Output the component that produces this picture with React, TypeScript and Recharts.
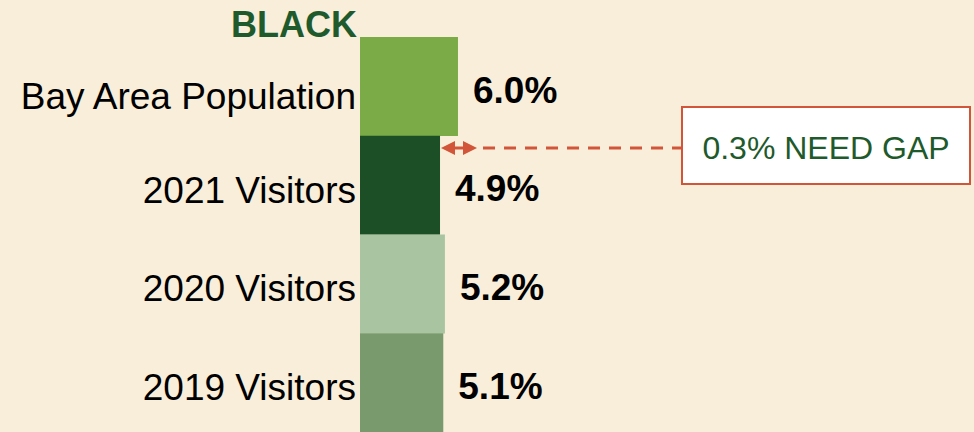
import { BarChart, Bar, XAxis, YAxis, Cell, LabelList } from 'recharts'

const categories = ['Bay Area Population', '2021 Visitors', '2020 Visitors', '2019 Visitors']
const shares = [6.0, 4.9, 5.2, 5.1]
const barColors = ['#7AAB46', '#1C4F25', '#A8C4A0', '#799A6C']
const title = 'BLACK'
const gapNote = '0.3% NEED GAP'

const W = 974
const H = 432
const AXIS_W = 360
const X_MAX = 37.6
const FONT = '"Liberation Sans", Arial, sans-serif'
const ACCENT = '#D2553A'
const DARK_GREEN = '#1E5A2B'

const data = categories.map((name, i) => ({ name, value: shares[i] }))

// pixel position of a value along the bar axis (same scale the chart uses)
const xAt = (v: number) => AXIS_W + (v / X_MAX) * (W - AXIS_W)

function CategoryTick(props: any) {
  const { x, y, payload, index } = props
  return (
    <text
      x={x + 4}
      y={y + (index === 0 ? 10 : 5)}
      textAnchor="end"
      dominantBaseline="central"
      fontFamily={FONT}
      fontSize={37}
      fill="#000"
    >
      {payload.value}
    </text>
  )
}

export default function App() {
  const arrowY = 148
  const arrowL = xAt(shares[1]) + 1
  const arrowR = arrowL + 36
  const boxX = 682
  const boxW = 288

  return (
    <div style={{ position: 'absolute', left: 0, top: 0, width: W, height: H, background: '#F8EEDA' }}>
      <BarChart
        width={W}
        height={H}
        data={data}
        layout="vertical"
        margin={{ top: 37, right: 0, bottom: 0, left: 0 }}
        barCategoryGap={0}
      >
        <XAxis type="number" domain={[0, X_MAX]} hide />
        <YAxis
          type="category"
          dataKey="name"
          width={AXIS_W}
          axisLine={false}
          tickLine={false}
          tick={<CategoryTick />}
          interval={0}
        />
        <Bar dataKey="value" isAnimationActive={false}>
          {data.map((d, i) => (
            <Cell key={d.name} fill={barColors[i]} />
          ))}
          <LabelList
            dataKey="value"
            position="right"
            offset={15}
            formatter={(v: any) => `${Number(v).toFixed(1)}%`}
            style={{ fontFamily: FONT, fontSize: 37, fontWeight: 700, fill: '#000' }}
            dy={3}
          />
        </Bar>
      </BarChart>
      <svg width={W} height={H} style={{ position: 'absolute', left: 0, top: 0, pointerEvents: 'none' }}>
        <text x={357} y={37} textAnchor="end" fontFamily={FONT} fontSize={36} fontWeight={700} fill={DARK_GREEN}>
          {title}
        </text>
        {/* double arrow */}
        <line x1={arrowL + 10} y1={arrowY} x2={arrowR - 10} y2={arrowY} stroke={ACCENT} strokeWidth={3} />
        <polygon points={`${arrowL},${arrowY} ${arrowL + 14},${arrowY - 7} ${arrowL + 14},${arrowY + 7}`} fill={ACCENT} />
        <polygon points={`${arrowR},${arrowY} ${arrowR - 14},${arrowY - 7} ${arrowR - 14},${arrowY + 7}`} fill={ACCENT} />
        <line x1={arrowR + 6} y1={arrowY} x2={boxX} y2={arrowY} stroke={ACCENT} strokeWidth={3} strokeDasharray="12 9" />
        <rect x={boxX} y={107} width={boxW} height={77} fill="#FFFFFF" stroke={ACCENT} strokeWidth={2} />
        <text
          x={boxX + boxW / 2}
          y={arrowY}
          textAnchor="middle"
          dominantBaseline="central"
          fontFamily={FONT}
          fontSize={32}
          fill={DARK_GREEN}
        >
          {gapNote}
        </text>
      </svg>
    </div>
  )
}
